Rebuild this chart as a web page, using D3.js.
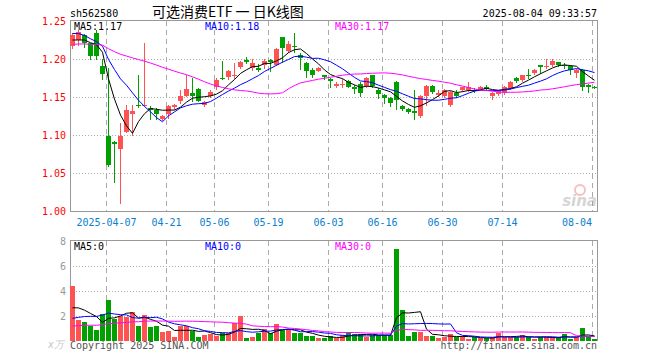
<!DOCTYPE html>
<html>
<head>
<meta charset="utf-8">
<script src="https://cdn.jsdelivr.net/npm/d3@7"></script>
<style>
body { margin: 0; background: #fff; }
svg { display: block; }
text { font-family: "DejaVu Sans Mono", monospace; font-size: 10px; }
</style>
</head>
<body>
<svg width="660" height="360"></svg>
<script>
// trading days shown (2025)
var dates = ["03-27","03-28","03-31","04-01","04-02","04-03","04-07","04-08","04-09","04-10",
  "04-11","04-14","04-15","04-16","04-17","04-18","04-21","04-22","04-23","04-24",
  "04-25","04-28","04-29","04-30","05-06","05-07","05-08","05-09","05-12","05-13",
  "05-14","05-15","05-16","05-19","05-20","05-21","05-22","05-23","05-26","05-27",
  "05-28","05-29","05-30","06-03","06-04","06-05","06-06","06-09","06-10","06-11",
  "06-12","06-13","06-16","06-17","06-18","06-19","06-20","06-23","06-24","06-25",
  "06-26","06-27","06-30","07-01","07-02","07-03","07-04","07-07","07-08","07-09",
  "07-10","07-11","07-14","07-15","07-16","07-17","07-18","07-21","07-22","07-23",
  "07-24","07-25","07-28","07-29","07-30","07-31","08-01","08-04"];

var opens = [1.218,1.226,1.232,1.221,1.234,1.191,1.099,1.091,1.082,1.104,
  1.128,1.140,1.138,1.136,1.133,1.121,1.128,1.137,1.145,1.152,
  1.155,1.161,1.140,1.152,1.164,1.175,1.177,1.178,1.190,1.199,
  1.188,1.189,1.193,1.199,1.193,1.229,1.211,1.218,1.205,1.195,
  1.186,1.185,1.179,1.174,1.165,1.167,1.171,1.163,1.167,1.165,
  1.179,1.160,1.153,1.149,1.170,1.139,1.134,1.132,1.125,1.152,
  1.165,1.153,1.152,1.140,1.156,1.159,1.159,1.160,1.160,1.164,
  1.152,1.154,1.155,1.162,1.175,1.173,1.180,1.182,1.192,1.190,
  1.192,1.196,1.192,1.191,1.182,1.186,1.166,1.164];

var highs = [1.235,1.238,1.233,1.222,1.2385,1.200,1.188,1.092,1.116,1.140,
  1.140,1.180,1.221,1.139,1.136,1.127,1.140,1.141,1.160,1.180,
  1.175,1.162,1.145,1.159,1.175,1.198,1.186,1.195,1.198,1.203,
  1.201,1.194,1.201,1.201,1.215,1.230,1.224,1.234,1.208,1.196,
  1.188,1.190,1.180,1.175,1.170,1.174,1.173,1.166,1.170,1.177,
  1.180,1.162,1.154,1.150,1.171,1.140,1.136,1.160,1.153,1.166,
  1.166,1.160,1.161,1.158,1.160,1.164,1.170,1.162,1.165,1.166,
  1.157,1.159,1.165,1.171,1.177,1.180,1.187,1.187,1.192,1.200,
  1.200,1.197,1.195,1.192,1.187,1.187,1.167,1.165];

var lows = [1.215,1.219,1.216,1.200,1.200,1.174,1.059,1.038,1.011,1.104,
  1.100,1.137,1.138,1.122,1.122,1.120,1.123,1.135,1.143,1.152,
  1.145,1.145,1.139,1.151,1.161,1.174,1.174,1.176,1.188,1.195,
  1.186,1.184,1.188,1.185,1.193,1.197,1.210,1.209,1.187,1.177,
  1.177,1.184,1.174,1.163,1.163,1.163,1.163,1.156,1.152,1.164,
  1.163,1.149,1.143,1.138,1.134,1.133,1.130,1.121,1.124,1.140,
  1.156,1.152,1.151,1.138,1.151,1.158,1.158,1.157,1.159,1.160,
  1.148,1.153,1.154,1.161,1.170,1.172,1.175,1.181,1.182,1.189,
  1.191,1.191,1.188,1.181,1.177,1.160,1.157,1.162];

var closes = [1.232,1.236,1.221,1.204,1.204,1.181,1.061,1.088,1.099,1.133,
  1.132,1.138,1.140,1.133,1.128,1.126,1.139,1.140,1.152,1.161,
  1.152,1.145,1.144,1.157,1.173,1.174,1.184,1.179,1.197,1.197,
  1.195,1.186,1.198,1.197,1.214,1.215,1.220,1.217,1.202,1.184,
  1.179,1.188,1.177,1.172,1.168,1.168,1.163,1.161,1.155,1.176,
  1.165,1.154,1.149,1.142,1.146,1.135,1.131,1.130,1.152,1.165,
  1.157,1.155,1.160,1.157,1.152,1.163,1.163,1.158,1.164,1.161,
  1.155,1.158,1.164,1.170,1.172,1.179,1.178,1.186,1.190,1.191,
  1.198,1.193,1.191,1.186,1.186,1.163,1.164,1.163];

// volume, in 万
var volumes = [4.40,1.64,1.50,1.19,0.84,2.09,3.24,1.70,1.96,1.92,
  2.26,1.16,2.04,1.08,1.16,0.71,0.76,0.30,1.17,1.13,
  0.76,0.29,0.44,0.52,0.36,0.57,0.57,1.37,1.96,0.23,
  0.31,0.63,0.89,0.63,1.29,0.84,0.89,0.63,0.63,0.36,
  0.36,0.17,0.17,0.36,0.17,0.41,0.68,0.52,0.52,0.31,
  0.44,0.44,0.44,0.44,7.32,2.44,0.36,0.68,0.71,0.36,
  0.36,0.17,0.31,0.52,0.25,0.36,0.12,0.25,0.17,0.17,
  0.25,0.63,0.25,0.25,0.25,0.44,0.31,0.12,0.25,0.25,
  0.25,0.25,0.52,0.12,0.25,1.03,0.31,0.12];

// the 29 sessions before the window (estimated from where the MA lines start)
var priorCloses = [1.222,1.220,1.215,1.212,1.208,1.205,1.203,1.203,1.202,1.204,
  1.203,1.206,1.205,1.209,1.212,1.215,1.219,1.224,1.229,1.235,
  1.238,1.245,1.248,1.242,1.240,1.236,1.221,1.222,1.216];
var priorVolumes = [0.7,0.9,0.8,1.0,0.6,0.9,0.8,0.7,1.1,0.9,
  0.8,0.7,0.9,1.0,0.8,0.9,0.8,0.9,1.0,0.9,
  0.8,0.9,1.0,0.9,1.0,1.7,2.4,2.5,2.1];

var priceTicks = [1.00, 1.05, 1.10, 1.15, 1.20, 1.25];
var volTicks = [2, 4, 6, 8];
var tickDates = ["04-07","04-21","05-06","05-19","06-03","06-16","06-30","07-14","08-04"];
var tickLabels = ["2025-04-07","04-21","05-06","05-19","06-03","06-16","06-30","07-14","08-04"];

var maPeriods = [5, 10, 30];
var maColors = ["#000000", "#0000ff", "#ff00ff"];
var upColor = "#ff5252", downColor = "#00a000";

var svg = d3.select("svg");
var left = 70, right = 597;

var x = d3.scaleBand()
    .domain(dates)
    .range([left, left + 6 * (dates.length - 1 / 6)])
    .paddingInner(1 / 6)
    .paddingOuter(0);
var bw = x.bandwidth();

var y = d3.scaleLinear().domain([1.00, 1.25]).range([211.3, 21.3]);
var vy = d3.scaleLinear().domain([0, 8]).range([340.5, 240.5]);

function movingAvg(values, prior, n) {
    var all = prior.concat(values);
    return values.map(function(v, i) {
        var j = i + prior.length;
        return d3.mean(all.slice(j - n + 1, j + 1));
    });
}

var priceMA = maPeriods.map(function(n) { return movingAvg(closes, priorCloses, n); });
var volMA = maPeriods.map(function(n) { return movingAvg(volumes, priorVolumes, n); });

function crisp(v) { return Math.round(v) + 0.5; }

// ---- header
svg.append("text").attr("x", 70).attr("y", 17).text("sh562580");
svg.append("text")
    .attr("x", 152).attr("y", 17)
    .style("font-family", "'Noto Sans CJK SC', sans-serif")
    .style("font-size", "14px")
    .text("可选消费ETF 一 日K线图");
svg.append("text").attr("x", right).attr("y", 17).attr("text-anchor", "end")
    .text("2025-08-04 09:33:57");

// ---- grids
function vGrid(top, bottom) {
    svg.append("g").selectAll("line")
        .data(tickDates)
        .join("line")
        .attr("x1", function(d) { return x(d) + 0.5; })
        .attr("x2", function(d) { return x(d) + 0.5; })
        .attr("y1", top).attr("y2", bottom)
        .attr("stroke", "#aaa")
        .attr("stroke-dasharray", "5,4")
        .attr("shape-rendering", "crispEdges");
}

vGrid(21, 211);
vGrid(241, 341);

svg.append("g").selectAll("line")
    .data(priceTicks.filter(function(v) { return v > 1.00 && v < 1.25; }))
    .join("line")
    .attr("x1", left).attr("x2", right + 1)
    .attr("y1", function(d) { return crisp(y(d)); })
    .attr("y2", function(d) { return crisp(y(d)); })
    .attr("stroke", "#aaa")
    .attr("stroke-dasharray", "1,2")
    .attr("shape-rendering", "crispEdges");

svg.append("g").selectAll("line")
    .data(volTicks.filter(function(v) { return v < 8; }))
    .join("line")
    .attr("x1", left).attr("x2", right + 1)
    .attr("y1", function(d) { return crisp(vy(d)); })
    .attr("y2", function(d) { return crisp(vy(d)); })
    .attr("stroke", "#aaa")
    .attr("stroke-dasharray", "1,2")
    .attr("shape-rendering", "crispEdges");

// ---- frames
svg.append("rect")
    .attr("x", left + 0.5).attr("y", 20.5)
    .attr("width", right - left).attr("height", 191)
    .attr("fill", "none").attr("stroke", "#999")
    .attr("shape-rendering", "crispEdges");

svg.append("path")
    .attr("d", "M" + (left + 0.5) + ",341V240.5H" + (right + 0.5) + "V341")
    .attr("fill", "none").attr("stroke", "#999")
    .attr("shape-rendering", "crispEdges");

// ---- axis labels
svg.append("g").selectAll("text")
    .data(priceTicks)
    .join("text")
    .attr("x", 66)
    .attr("y", function(d) { return y(d) + 4; })
    .attr("text-anchor", "end")
    .attr("fill", "#ff0000")
    .text(function(d) { return d.toFixed(2); });

svg.append("g").selectAll("text")
    .data(volTicks)
    .join("text")
    .attr("x", 66)
    .attr("y", function(d) { return vy(d) + 4; })
    .attr("text-anchor", "end")
    .attr("fill", "#999")
    .text(function(d) { return d; });

svg.append("text").attr("x", 64).attr("y", 348).attr("text-anchor", "end")
    .attr("fill", "#c8c8c8").style("font-style", "italic").text("x万");

svg.append("g").selectAll("text")
    .data(tickDates)
    .join("text")
    .attr("y", 226)
    .attr("fill", "#0a80d0")
    .each(function(d, i) {
        var label = tickLabels[i];
        var cx = x(d) + 0.5;
        var t = d3.select(this).text(label);
        if (cx + label.length * 3 > right) {
            t.attr("x", x(d)).attr("text-anchor", "end");
        } else {
            t.attr("x", cx).attr("text-anchor", "middle");
        }
    });

// ---- watermark
var wm = svg.append("g").attr("opacity", 0.35);
wm.append("circle").attr("cx", 580).attr("cy", 190).attr("r", 5)
    .attr("fill", "none").attr("stroke", "#e05050").attr("stroke-width", 2);
wm.append("text").attr("x", 597).attr("y", 206).attr("text-anchor", "end")
    .style("font-family", "'DejaVu Sans', sans-serif")
    .style("font-size", "15px").style("font-weight", "bold").style("font-style", "italic")
    .attr("fill", "#888").text("sina");

// ---- candles
var idx = d3.range(dates.length);
var candles = svg.append("g");

candles.selectAll("line")
    .data(idx)
    .join("line")
    .attr("x1", function(i) { return x(dates[i]) + 2.5; })
    .attr("x2", function(i) { return x(dates[i]) + 2.5; })
    .attr("y1", function(i) { return Math.round(y(highs[i])); })
    .attr("y2", function(i) { return Math.round(y(lows[i])) + 1; })
    .attr("stroke", function(i) { return closes[i] >= opens[i] ? upColor : downColor; })
    .attr("shape-rendering", "crispEdges");

candles.selectAll("rect")
    .data(idx)
    .join("rect")
    .attr("x", function(i) { return x(dates[i]); })
    .attr("width", bw)
    .attr("y", function(i) { return Math.round(y(Math.max(opens[i], closes[i]))); })
    .attr("height", function(i) {
        var h = Math.round(y(Math.min(opens[i], closes[i]))) - Math.round(y(Math.max(opens[i], closes[i])));
        return Math.max(1, h);
    })
    .attr("fill", function(i) { return closes[i] >= opens[i] ? upColor : downColor; })
    .attr("shape-rendering", "crispEdges");

// ---- volume bars
svg.append("g").selectAll("rect")
    .data(idx)
    .join("rect")
    .attr("x", function(i) { return x(dates[i]); })
    .attr("width", bw)
    .attr("y", function(i) { return Math.round(vy(volumes[i])); })
    .attr("height", function(i) { return 341 - Math.round(vy(volumes[i])); })
    .attr("fill", function(i) { return closes[i] >= opens[i] ? upColor : downColor; })
    .attr("shape-rendering", "crispEdges");

// ---- moving averages
function drawMA(series, scale) {
    var line = d3.line()
        .x(function(v, i) { return x(dates[i]) + bw / 2; })
        .y(function(v) { return scale(v); });
    svg.append("g").selectAll("path")
        .data(series)
        .join("path")
        .attr("d", line)
        .attr("fill", "none")
        .attr("stroke", function(d, k) { return maColors[k]; })
        .attr("stroke-width", 1);
}
drawMA(priceMA, y);
drawMA(volMA, vy);

// ---- legends
var legendX = [74, 205, 335];
svg.append("g").selectAll("text")
    .data(maPeriods)
    .join("text")
    .attr("x", function(d, k) { return legendX[k]; })
    .attr("y", 30)
    .attr("fill", function(d, k) { return maColors[k]; })
    .text(function(d, k) { return "MA" + d + ":" + priceMA[k][closes.length - 1].toFixed(2); });

svg.append("g").selectAll("text")
    .data(maPeriods)
    .join("text")
    .attr("x", function(d, k) { return legendX[k]; })
    .attr("y", 250)
    .attr("fill", function(d, k) { return maColors[k]; })
    .text(function(d, k) { return "MA" + d + ":" + d3.format(".0f")(volMA[k][volumes.length - 1]); });

// ---- footer
svg.append("text").attr("x", 70).attr("y", 349).attr("fill", "#555")
    .text("Copyright 2025 SINA.COM");
svg.append("text").attr("x", right).attr("y", 349).attr("text-anchor", "end").attr("fill", "#555")
    .text("http://finance.sina.com.cn");
</script>
</body>
</html>
